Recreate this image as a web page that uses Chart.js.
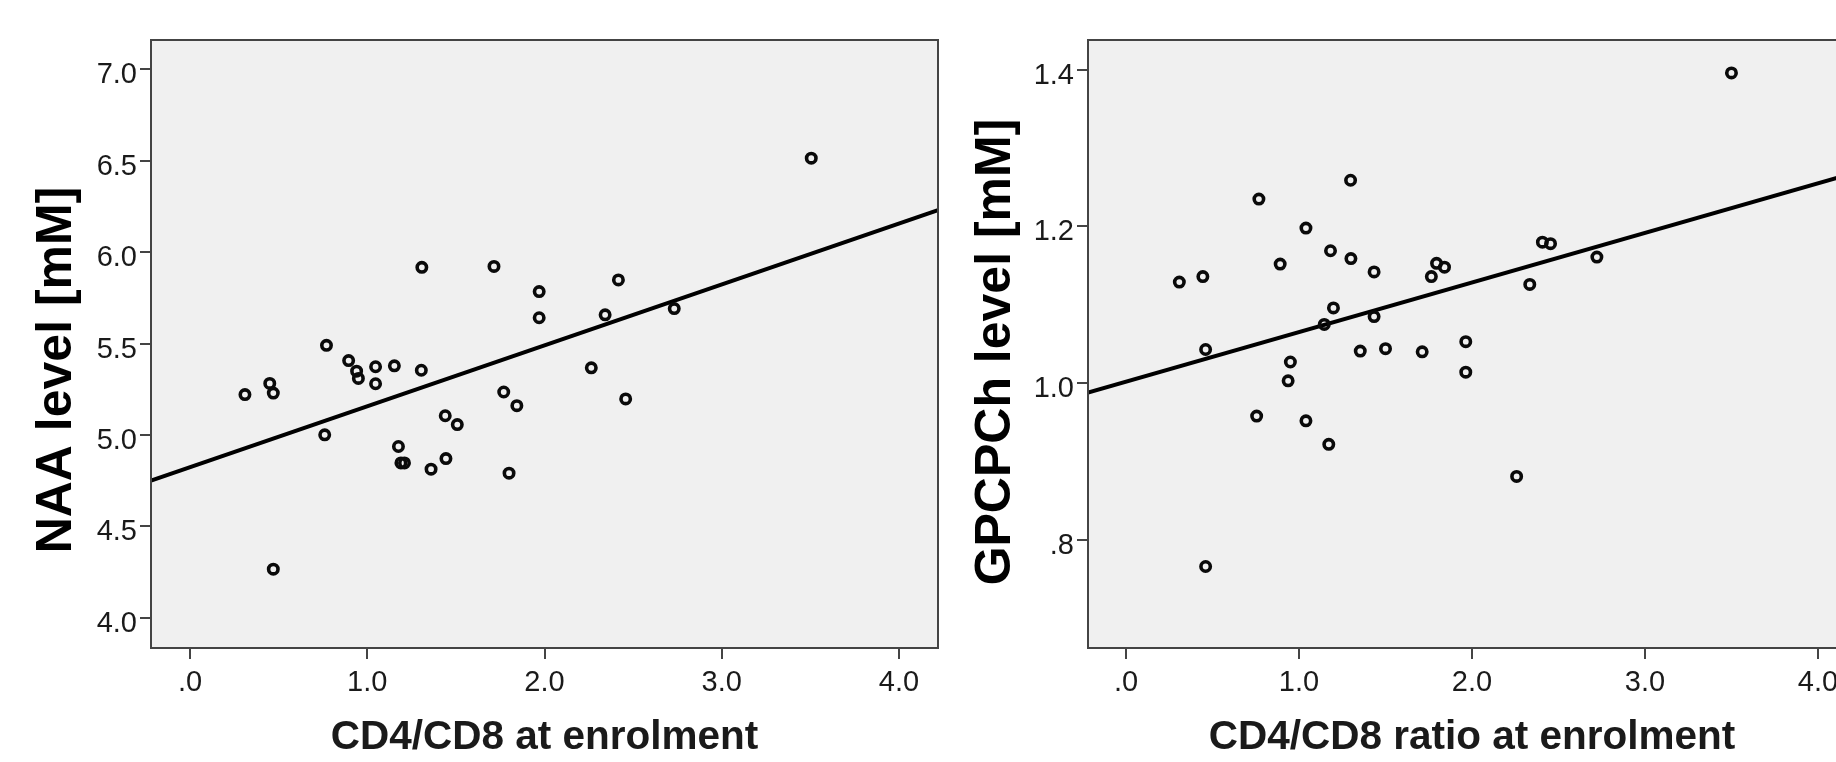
<!DOCTYPE html>
<html>
<head>
<meta charset="utf-8">
<script src="https://cdn.jsdelivr.net/npm/chart.js@4/dist/chart.umd.min.js"></script>
<style>
  html, body { margin: 0; padding: 0; background: #ffffff; overflow: hidden; width: 1836px; height: 762px; }
  #wrapL { position: absolute; left: 0; top: 0; width: 960px; height: 762px; }
  #wrapR { position: absolute; left: 918px; top: 0; width: 960px; height: 762px; }
</style>
</head>
<body>
<div id="wrapL"><canvas id="chartL" width="960" height="762"></canvas></div>
<div id="wrapR"><canvas id="chartR" width="960" height="762"></canvas></div>
<script>
// ---- Data ----
const naaRatio = [0.31, 0.45, 0.47, 0.47, 0.76, 0.77, 0.895, 0.94, 0.95, 1.047, 1.047, 1.153, 1.305, 1.308, 1.176, 1.19, 1.21, 1.36, 1.44, 1.444, 1.508, 1.715, 1.77, 1.80, 1.844, 1.97, 1.97, 2.264, 2.342, 2.417, 2.458, 2.732, 3.505];
const naaLevel = [5.221, 5.282, 5.229, 4.266, 5.001, 5.490, 5.407, 5.349, 5.309, 5.373, 5.280, 5.378, 5.354, 5.917, 4.937, 4.847, 4.847, 4.813, 5.105, 4.871, 5.057, 5.922, 5.235, 4.791, 5.160, 5.784, 5.641, 5.367, 5.657, 5.848, 5.197, 5.691, 6.514];

const gpcRatio = [0.308, 0.444, 0.46, 0.46, 0.755, 0.768, 0.891, 0.937, 0.95, 1.04, 1.04, 1.146, 1.182, 1.172, 1.199, 1.30, 1.298, 1.354, 1.434, 1.434, 1.50, 1.712, 1.765, 1.795, 1.841, 1.964, 1.964, 2.258, 2.334, 2.407, 2.454, 2.722, 3.50];
const gpcLevel = [1.129, 1.136, 1.043, 0.766, 0.958, 1.235, 1.152, 1.003, 1.027, 1.198, 0.952, 1.075, 1.169, 0.922, 1.096, 1.159, 1.259, 1.041, 1.142, 1.085, 1.044, 1.040, 1.136, 1.153, 1.148, 1.053, 1.014, 0.881, 1.126, 1.180, 1.178, 1.161, 1.396];

// Fit lines (end points)
const fitX = [-0.22, 4.22];
const naaFitY = [4.75, 6.23];
const gpcFitY = [0.988, 1.269];

// Ticks
const xTickValues = [0, 1, 2, 3, 4];
const xTickLabels = ['.0', '1.0', '2.0', '3.0', '4.0'];
const naaTickValues = [4.0, 4.5, 5.0, 5.5, 6.0, 6.5, 7.0];
const naaTickLabels = ['4.0', '4.5', '5.0', '5.5', '6.0', '6.5', '7.0'];
const gpcTickValues = [0.8, 1.0, 1.2, 1.4];
const gpcTickLabels = ['.8', '1.0', '1.2', '1.4'];

// Titles
const naaXTitle = 'CD4/CD8 at enrolment';
const naaYTitle = 'NAA level [mM]';
const gpcXTitle = 'CD4/CD8 ratio at enrolment';
const gpcYTitle = 'GPCPCh level [mM]';

// ---- Styling ----
const FRAME = '#444444';
const TEXT = '#1a1a1a';
const PLOTBG = '#f0f0f0';
const FONT = '"Liberation Sans", Arial, sans-serif';

const frame = {
  id: 'frame',
  beforeDatasetsDraw(chart) {
    const {ctx, chartArea: a} = chart;
    ctx.save();
    ctx.fillStyle = PLOTBG;
    ctx.fillRect(a.left, a.top, a.right - a.left, a.bottom - a.top);
    ctx.restore();
  },
  afterDraw(chart) {
    const {ctx, chartArea: a} = chart;
    ctx.save();
    ctx.strokeStyle = FRAME;
    ctx.lineWidth = 2;
    ctx.strokeRect(a.left, a.top, a.right - a.left, a.bottom - a.top);
    ctx.restore();
  }
};

function makeChart(id, xs, ys, fitY, yMin, yMax, yTickVals, yTickLbls, xTitle, yTitle, yAxisWidth, yTitlePad, yTitleShift) {
  const pts = xs.map((x, i) => ({x: x, y: ys[i]}));
  const line = fitX.map((x, i) => ({x: x, y: fitY[i]}));
  return new Chart(document.getElementById(id), {
    type: 'scatter',
    data: {
      datasets: [
        {
          type: 'line',
          data: line,
          borderColor: '#000000',
          borderWidth: 4,
          pointRadius: 0,
          fill: false,
          tension: 0,
          order: 2
        },
        {
          type: 'scatter',
          data: pts,
          pointStyle: 'circle',
          pointRadius: 4.7,
          pointBorderWidth: 3.6,
          pointBorderColor: '#0a0a0a',
          pointBackgroundColor: 'rgba(0,0,0,0)',
          borderColor: '#0a0a0a',
          backgroundColor: 'rgba(0,0,0,0)',
          order: 1
        }
      ]
    },
    options: {
      responsive: false,
      animation: false,
      devicePixelRatio: 1,
      layout: { padding: { top: 40, right: 22, left: 0, bottom: 0 } },
      plugins: { legend: { display: false }, tooltip: { enabled: false } },
      scales: {
        x: {
          type: 'linear',
          min: -0.22,
          max: 4.22,
          afterFit(s) { s.height = 114; },
          afterBuildTicks(s) { s.ticks = xTickValues.map(v => ({value: v})); },
          border: { display: true, color: FRAME, width: 2 },
          grid: { display: true, drawOnChartArea: false, drawTicks: true, tickLength: 11, color: FRAME, lineWidth: 2 },
          ticks: {
            padding: 7,
            color: TEXT,
            font: { family: FONT, size: 29 },
            maxRotation: 0,
            autoSkip: false,
            callback: (v, i) => xTickLabels[i]
          },
          title: {
            display: true,
            text: xTitle,
            color: TEXT,
            padding: { top: 0, bottom: 0 },
            font: { family: FONT, size: 40.5, weight: 'bold' }
          }
        },
        y: {
          type: 'linear',
          min: yMin,
          max: yMax,
          afterFit(s) { s.width = yAxisWidth; },
          afterBuildTicks(s) { s.ticks = yTickVals.map(v => ({value: v})); },
          afterUpdate(s) {
            // move the axis title along the axis, as in the reference
            if (!s._titleShifted) {
              const orig = s.drawTitle;
              s.drawTitle = function () {
                const t = this.top, b = this.bottom;
                this.top = t + yTitleShift;
                this.bottom = b + yTitleShift;
                orig.call(this);
                this.top = t;
                this.bottom = b;
              };
              s._titleShifted = true;
            }
          },
          border: { display: true, color: FRAME, width: 2 },
          grid: { display: true, drawOnChartArea: false, drawTicks: true, tickLength: 11, color: FRAME, lineWidth: 2 },
          ticks: {
            padding: 3,
            labelOffset: 6,
            color: TEXT,
            font: { family: FONT, size: 29 },
            autoSkip: false,
            callback: (v, i) => yTickLbls[i]
          },
          title: {
            display: true,
            text: yTitle,
            color: '#000000',
            padding: { top: yTitlePad, bottom: 0 },
            font: { family: FONT, size: 50, weight: 'bold' }
          }
        }
      }
    },
    plugins: [frame]
  });
}

makeChart('chartL', naaRatio, naaLevel, naaFitY, 3.835, 7.16, naaTickValues, naaTickLabels, naaXTitle, naaYTitle, 151, 27, 26);
makeChart('chartR', gpcRatio, gpcLevel, gpcFitY, 0.662, 1.438, gpcTickValues, gpcTickLabels, gpcXTitle, gpcYTitle, 170, 48, 8);
</script>
</body>
</html>
